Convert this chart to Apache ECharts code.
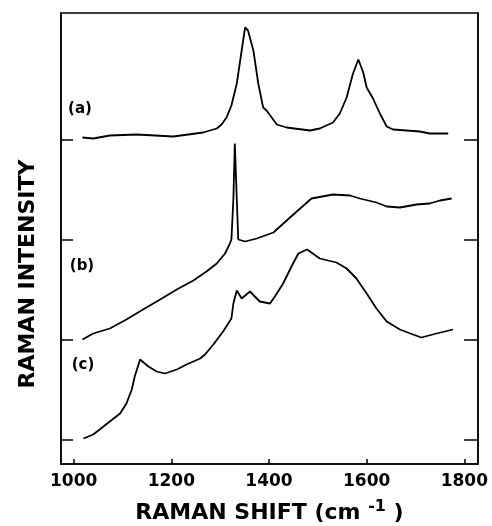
<!DOCTYPE html>
<html>
<head>
<meta charset="utf-8">
<script src="https://cdn.jsdelivr.net/npm/echarts@6/dist/echarts.min.js"></script>
<style>
  html, body { margin: 0; padding: 0; background: #fff; }
  #chart { width: 492px; height: 526px; }
</style>
</head>
<body>
<div id="chart"></div>
<script>
// Raman shift (cm-1) and intensity above each trace's own baseline
const shiftA = [1018, 1040, 1074, 1129, 1204, 1265, 1293, 1303, 1313, 1323, 1334, 1344, 1351, 1357, 1368, 1378, 1388, 1395, 1416, 1436, 1484, 1504, 1531, 1545, 1559, 1572, 1583, 1593, 1600, 1613, 1627, 1641, 1654, 1709, 1729, 1767];
const intensityA = [0.02, 0.01, 0.04, 0.05, 0.03, 0.07, 0.11, 0.15, 0.22, 0.34, 0.56, 0.89, 1.12, 1.09, 0.89, 0.56, 0.32, 0.29, 0.15, 0.12, 0.09, 0.11, 0.17, 0.26, 0.42, 0.66, 0.80, 0.67, 0.52, 0.41, 0.26, 0.13, 0.10, 0.08, 0.06, 0.06];

const shiftB = [1018, 1040, 1074, 1108, 1142, 1177, 1211, 1245, 1272, 1293, 1310, 1319, 1323, 1327, 1330, 1334, 1337, 1340, 1351, 1375, 1409, 1443, 1487, 1531, 1566, 1586, 1620, 1641, 1668, 1702, 1729, 1750, 1774];
const intensityB = [0.00, 0.06, 0.11, 0.20, 0.30, 0.40, 0.50, 0.59, 0.68, 0.76, 0.86, 0.95, 1.00, 1.40, 1.96, 1.40, 1.00, 1.01, 0.98, 1.01, 1.07, 1.22, 1.41, 1.45, 1.44, 1.41, 1.37, 1.33, 1.32, 1.35, 1.36, 1.39, 1.41];

const shiftC = [1020, 1040, 1061, 1074, 1095, 1108, 1119, 1125, 1136, 1153, 1170, 1187, 1211, 1231, 1259, 1269, 1286, 1306, 1323, 1327, 1334, 1344, 1361, 1381, 1402, 1412, 1429, 1443, 1460, 1478, 1504, 1538, 1559, 1579, 1600, 1620, 1641, 1668, 1695, 1712, 1743, 1777];
const intensityC = [0.01, 0.05, 0.13, 0.18, 0.26, 0.36, 0.50, 0.63, 0.80, 0.73, 0.68, 0.66, 0.70, 0.75, 0.81, 0.85, 0.95, 1.08, 1.21, 1.36, 1.49, 1.41, 1.48, 1.38, 1.36, 1.43, 1.56, 1.70, 1.86, 1.90, 1.81, 1.77, 1.71, 1.61, 1.46, 1.31, 1.18, 1.10, 1.05, 1.02, 1.06, 1.10];

// vertical offset of each trace (matches the tick marks)
const offsets = { a: 3, b: 1, c: 0 };
const traceLabels = ['(a)', '(b)', '(c)'];

const xTicks = [1000, 1200, 1400, 1600, 1800];
const yTicks = [0, 1, 2, 3];

const toPairs = (xs, ys, off) => xs.map((x, i) => [x, ys[i] + off]);

const chart = echarts.init(document.getElementById('chart'));

const lineSeries = (data) => ({
  type: 'line',
  data: data,
  showSymbol: false,
  smooth: false,
  silent: true,
  lineStyle: { color: '#000', width: 1.8 },
});

const boldFont = '"DejaVu Sans", sans-serif';

chart.setOption({
  backgroundColor: '#fff',
  animation: false,
  grid: {
    left: 61, right: 14, top: 13, bottom: 62,
    outerBoundsMode: 'none',
    show: true, borderColor: '#000', borderWidth: 1.5,
  },
  xAxis: {
    type: 'value',
    min: 974,
    max: 1828,
    axisLine: { show: true, onZero: false, lineStyle: { color: '#000', width: 1.5 } },
    axisTick: { inside: true, length: 5, customValues: xTicks, lineStyle: { color: '#000', width: 1.5 } },
    axisLabel: {
      customValues: xTicks,
      formatter: (v) => String(v),
      color: '#000', fontFamily: boldFont, fontWeight: 'bold', fontSize: 17, margin: 9,
    },
    splitLine: { show: false },
    name: 'RAMAN SHIFT (cm {sup|-1} )',
    nameLocation: 'middle',
    nameGap: 35,
    nameTextStyle: {
      color: '#000', fontFamily: boldFont, fontWeight: 'bold', fontSize: 22,
      rich: {
        sup: { fontFamily: boldFont, fontWeight: 'bold', fontSize: 16, verticalAlign: 'top', padding: [0, 0, 12, 0] },
      },
    },
  },
  yAxis: [
    {
      type: 'value',
      min: -0.245,
      max: 4.265,
      axisLine: { show: true, onZero: false, lineStyle: { color: '#000', width: 1.5 } },
      axisTick: { inside: true, length: 12, customValues: yTicks, lineStyle: { color: '#000', width: 1.5 } },
      axisLabel: { show: false },
      splitLine: { show: false },
    },
    {
      type: 'value',
      position: 'right',
      min: -0.245,
      max: 4.265,
      axisLine: { show: true, onZero: false, lineStyle: { color: '#000', width: 1.5 } },
      axisTick: { inside: true, length: 14, customValues: yTicks, lineStyle: { color: '#000', width: 1.5 } },
      axisLabel: { show: false },
      splitLine: { show: false },
    },
  ],
  graphic: [
    {
      type: 'text', x: 28, y: 274, rotation: Math.PI / 2,
      style: {
        text: 'RAMAN INTENSITY', fill: '#000', font: 'bold 22px "DejaVu Sans", sans-serif',
        align: 'center', verticalAlign: 'middle',
      },
    },
    { type: 'text', x: 80, y: 109, style: { text: traceLabels[0], fill: '#000', font: 'bold 15px "DejaVu Sans", sans-serif', align: 'center', verticalAlign: 'middle' } },
    { type: 'text', x: 82, y: 266, style: { text: traceLabels[1], fill: '#000', font: 'bold 15px "DejaVu Sans", sans-serif', align: 'center', verticalAlign: 'middle' } },
    { type: 'text', x: 83, y: 365, style: { text: traceLabels[2], fill: '#000', font: 'bold 15px "DejaVu Sans", sans-serif', align: 'center', verticalAlign: 'middle' } },
  ],
  series: [
    lineSeries(toPairs(shiftA, intensityA, offsets.a)),
    lineSeries(toPairs(shiftB, intensityB, offsets.b)),
    lineSeries(toPairs(shiftC, intensityC, offsets.c)),
  ],
});
</script>
</body>
</html>
